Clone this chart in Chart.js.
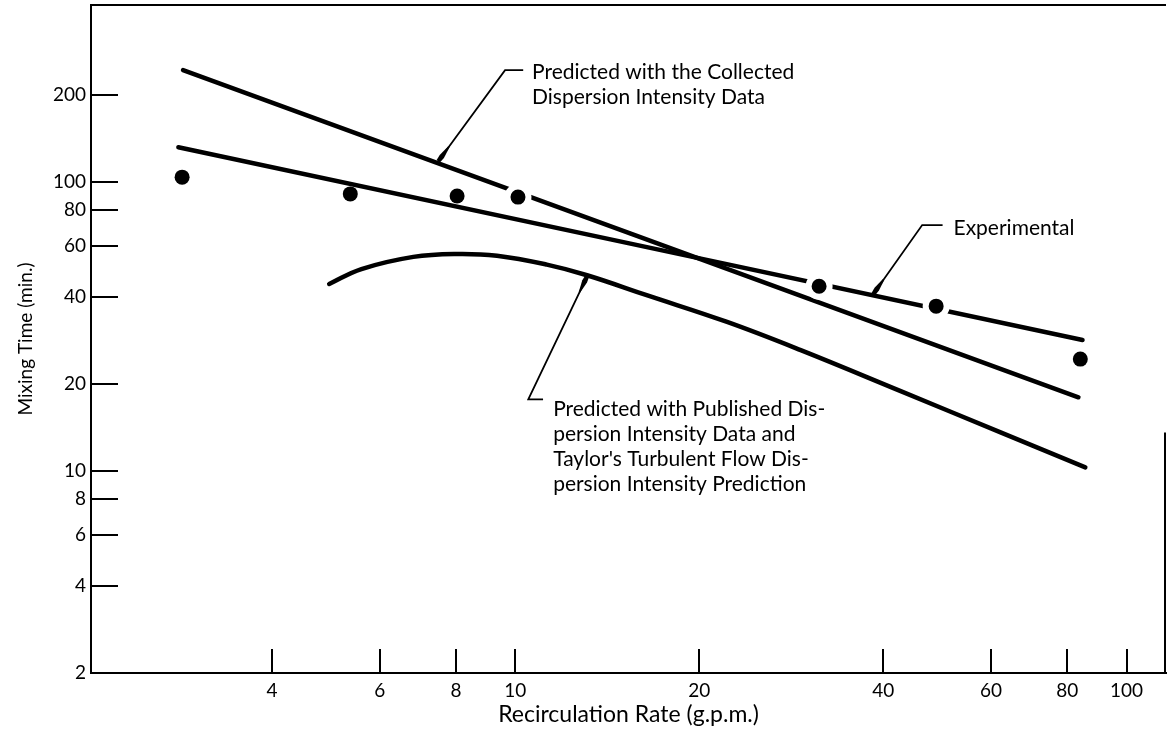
<!DOCTYPE html>
<html>
<head>
<meta charset="utf-8">
<script src="https://cdn.jsdelivr.net/npm/chart.js@4.4.0/dist/chart.umd.min.js"></script>
<style>
  html, body { margin: 0; padding: 0; background: #fff; }
</style>
</head>
<body>
<canvas id="chart" width="1167" height="732"></canvas>
<script>
// recirculation rate (g.p.m.) vs mixing time (min.), both log
const measuredX = [2.85, 5.37, 8.03, 10.1, 31.4, 48.8, 84.0];
const measuredY = [104, 91, 89.5, 88.7, 43.6, 37.2, 24.4];
// dots where the drawn line is interrupted
const brokenAt = [3, 4, 5];

const experimentalX = [2.81, 84.7];
const experimentalY = [132, 28.4];

const collectedX = [2.86, 83.4];
const collectedY = [244, 18.0];

const publishedX = [4.96, 5.6, 6.81, 8.02, 9.33, 11.26, 13.1, 16.4, 22.2, 29.3, 42.7, 62.2, 85.6];
const publishedY = [44.4, 50.0, 55.1, 56.4, 55.6, 51.8, 47.6, 40.6, 32.8, 26.2, 18.9, 13.6, 10.3];

const xTicks = [4, 6, 8, 10, 20, 40, 60, 80, 100];
const yTicks = [2, 4, 6, 8, 10, 20, 40, 60, 80, 100, 200];

// callout text, its anchor and the leader (elbow, elbow, tip) in data units
const callouts = [
  { lines: ['Predicted with the Collected', 'Dispersion Intensity Data'],
    at: [10.65, 240], leader: [[10.3, 244], [9.62, 244], [7.48, 118]] },
  { lines: ['Experimental'],
    at: [52.1, 69.3], leader: [[50, 71], [46.3, 71], [38.5, 40.9]] },
  { lines: ['Predicted with Published Dis-', 'persion Intensity Data and',
            'Taylor\'s Turbulent Flow Dis-', 'persion Intensity Prediction'],
    at: [11.53, 16.4], leader: [[11.1, 17.7], [10.5, 17.7], [13.11, 47.3]] }
];

const FONT = 'Lato';
const pts = (xs, ys) => xs.map((x, i) => ({ x: x, y: ys[i] }));

const curve = (label, xs, ys) => ({
  label: label,
  data: pts(xs, ys),
  borderColor: '#000',
  borderWidth: 4.5,
  borderCapStyle: 'round',
  pointRadius: 0,
  tension: 0.4,
  order: 1
});

const frameAndTicks = {
  id: 'frameAndTicks',
  afterDraw(chart) {
    const { ctx, chartArea: a, scales: { x, y } } = chart;
    ctx.save();
    ctx.strokeStyle = '#000';
    ctx.lineWidth = 2;
    ctx.beginPath();
    xTicks.forEach(v => {
      const px = Math.round(x.getPixelForValue(v));
      ctx.moveTo(px, a.bottom);
      ctx.lineTo(px, a.bottom - 24);
    });
    yTicks.forEach(v => {
      const py = Math.round(y.getPixelForValue(v));
      ctx.moveTo(a.left, py);
      ctx.lineTo(a.left + 27, py);
    });
    ctx.moveTo(a.left, a.top);
    ctx.lineTo(a.right, a.top);
    // the scan only keeps the lower part of the right edge
    ctx.moveTo(a.right - 1, a.top + (a.bottom - a.top) * 0.64);
    ctx.lineTo(a.right - 1, a.bottom);
    ctx.stroke();
    ctx.restore();
  }
};

const calloutPlugin = {
  id: 'callouts',
  afterDatasetsDraw(chart) {
    const { ctx, scales: { x, y } } = chart;
    ctx.save();
    ctx.strokeStyle = '#000';
    ctx.fillStyle = '#000';
    ctx.lineWidth = 1.8;
    callouts.forEach(c => {
      const p = c.leader.map(q => [x.getPixelForValue(q[0]), y.getPixelForValue(q[1])]);
      ctx.beginPath();
      ctx.moveTo(p[0][0], p[0][1]);
      p.slice(1).forEach(q => ctx.lineTo(q[0], q[1]));
      ctx.stroke();
      // small wedge at the tip
      const tip = p[p.length - 1], prev = p[p.length - 2];
      const dx = prev[0] - tip[0], dy = prev[1] - tip[1];
      const len = Math.hypot(dx, dy);
      const ux = dx / len, uy = dy / len, nx = -uy, ny = ux;
      ctx.beginPath();
      ctx.moveTo(tip[0] + nx * 2, tip[1] + ny * 2);
      ctx.lineTo(tip[0] + ux * 6 + nx * 2.6, tip[1] + uy * 6 + ny * 2.6);
      ctx.lineTo(tip[0] + ux * 18 + nx * 0.8, tip[1] + uy * 18 + ny * 0.8);
      ctx.lineTo(tip[0] + ux * 18 - nx * 0.8, tip[1] + uy * 18 - ny * 0.8);
      ctx.lineTo(tip[0] + ux * 6 - nx * 2.6, tip[1] + uy * 6 - ny * 2.6);
      ctx.lineTo(tip[0] - nx * 2, tip[1] - ny * 2);
      ctx.closePath();
      ctx.fill();

      ctx.font = '21px ' + FONT;
      ctx.textAlign = 'left';
      ctx.textBaseline = 'middle';
      const tx = x.getPixelForValue(c.at[0]), ty = y.getPixelForValue(c.at[1]);
      c.lines.forEach((t, i) => ctx.fillText(t, tx, ty + i * 25));
    });
    ctx.restore();
  }
};

new Chart(document.getElementById('chart'), {
  type: 'line',
  data: {
    datasets: [
      curve('Predicted with the Collected Dispersion Intensity Data', collectedX, collectedY),
      curve('Experimental', experimentalX, experimentalY),
      curve('Predicted with Published Dispersion Intensity Data', publishedX, publishedY),
      {
        label: 'Measured',
        data: pts(measuredX, measuredY),
        showLine: false,
        order: 0,
        pointBackgroundColor: '#000',
        pointBorderColor: '#fff',
        pointRadius: ctx => brokenAt.includes(ctx.dataIndex) ? 10.5 : 7.5,
        pointBorderWidth: ctx => brokenAt.includes(ctx.dataIndex) ? 6 : 0
      }
    ]
  },
  options: {
    responsive: false,
    animation: false,
    events: [],
    layout: { autoPadding: false, padding: { top: 5, right: 1, bottom: 0, left: 0 } },
    plugins: { legend: { display: false }, tooltip: { enabled: false } },
    scales: {
      x: {
        type: 'logarithmic',
        min: 2.022,
        max: 116,
        grid: { display: false, drawTicks: false },
        border: { display: true, color: '#000', width: 2 },
        afterBuildTicks: s => { s.ticks = xTicks.map(v => ({ value: v })); },
        afterFit: s => { s.height = 59; s.paddingLeft = 0; s.paddingRight = 0; },
        ticks: {
          color: '#000', padding: 6, autoSkip: false, maxRotation: 0,
          font: { family: FONT, size: 19 },
          callback: v => String(v)
        },
        title: {
          display: true, text: 'Recirculation Rate (g.p.m.)', color: '#000',
          font: { family: FONT, size: 23 }, padding: { top: 0, bottom: 4 }
        }
      },
      y: {
        type: 'logarithmic',
        min: 2,
        max: 410,
        grid: { display: false, drawTicks: false },
        border: { display: true, color: '#000', width: 2 },
        afterBuildTicks: s => { s.ticks = yTicks.map(v => ({ value: v })); },
        afterFit: s => { s.width = 91; s.paddingTop = 0; s.paddingBottom = 0; },
        ticks: {
          color: '#000', padding: 5, autoSkip: false,
          font: { family: FONT, size: 19 },
          callback: v => String(v)
        },
        title: {
          display: true, text: 'Mixing Time (min.)', color: '#000',
          font: { family: FONT, size: 19 }, padding: { top: 14, bottom: 0 }
        }
      }
    }
  },
  plugins: [frameAndTicks, calloutPlugin]
});
</script>
</body>
</html>
